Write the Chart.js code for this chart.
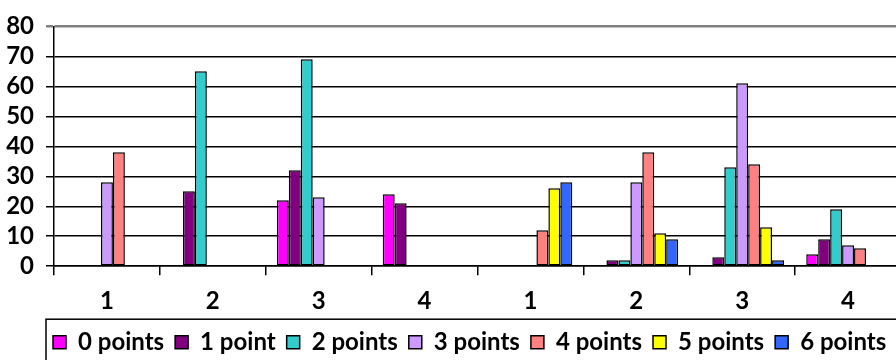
<!DOCTYPE html>
<html>
<head>
<meta charset="utf-8">
<script src="https://cdn.jsdelivr.net/npm/chart.js@4"></script>
<style>
  html, body { margin: 0; padding: 0; background: #fff; width: 896px; height: 360px; overflow: hidden; }
  #wrap { width: 910px; height: 380px; }
</style>
</head>
<body>
<div id="wrap"><canvas id="myChart"></canvas></div>
<script>
const categories = ['1', '2', '3', '4', '1', '2', '3', '4']
const seriesNames = ['0 points', '1 point', '2 points', '3 points', '4 points', '5 points', '6 points']
const seriesColors = ['#FF00FF', '#800080', '#33CCCC', '#CC99FF', '#FF8080', '#FFFF00', '#3366FF']

const points0 = [null, null, 22, 24, null, null, null, 4]
const points1 = [null, 25, 32, 21, null, 2, 3, 9]
const points2 = [null, 65, 69, null, null, 2, 33, 19]
const points3 = [28, null, 23, null, null, 28, 61, 7]
const points4 = [38, null, null, null, 12, 38, 34, 6]
const points5 = [null, null, null, null, 26, 11, 13, null]
const points6 = [null, null, null, null, 28, 9, 2, null]

const allSeries = [points0, points1, points2, points3, points4, points5, points6]

const font = { family: 'Lato', weight: 'bold', size: 24 }

// move legend under the axis and put a box round it, like the Excel one
const legendBox = {
  id: 'legendBox',
  afterLayout(chart) {
    const lg = chart.legend
    const ca = chart.chartArea
    const w = lg.right - lg.left
    const h = lg.bottom - lg.top
    lg.left = ca.left - 12
    lg.right = lg.left + w
    lg.top = ca.bottom + 53
    lg.bottom = lg.top + h
  },
  afterDraw(chart) {
    const ca = chart.chartArea
    const c = chart.ctx
    c.save()
    c.strokeStyle = '#000'
    c.lineWidth = 1.5
    c.strokeRect(ca.left - 8, ca.bottom + 53, 900, 60)
    c.restore()
  }
}

const ctx = document.getElementById('myChart')

new Chart(ctx, {
  type: 'bar',
  data: {
    labels: categories,
    datasets: allSeries.map((vals, i) => ({
      label: seriesNames[i],
      data: vals,
      backgroundColor: seriesColors[i],
      borderColor: '#000',
      borderWidth: 1.5,
      borderSkipped: false,
      barPercentage: 1,
      categoryPercentage: 0.79
    }))
  },
  options: {
    responsive: true,
    maintainAspectRatio: false,
    animation: false,
    layout: {
      padding: { left: 6, right: 9, top: 23, bottom: 7 }
    },
    scales: {
      x: {
        offset: true,
        grid: {
          display: true,
          drawOnChartArea: false,
          drawTicks: true,
          tickLength: 9,
          offset: true,
          color: '#000',
          lineWidth: 1.5
        },
        border: { color: '#000', width: 1.5 },
        ticks: { color: '#000', font: font, padding: 12, maxRotation: 0 }
      },
      y: {
        min: 0,
        max: 80,
        afterFit: s => { s.width = 48 },
        grid: {
          color: c => c.tick && c.tick.value === 80 ? '#808080' : '#000',
          lineWidth: c => c.tick && c.tick.value === 80 ? 2.5 : 1.5,
          tickLength: 8
        },
        border: { color: '#000', width: 1.5 },
        ticks: { stepSize: 10, autoSkip: false, color: '#000', font: font, padding: 12 }
      }
    },
    plugins: {
      legend: {
        position: 'bottom',
        align: 'start',
        labels: {
          color: '#000',
          font: font,
          boxWidth: 13,
          boxHeight: 13,
          padding: 11,
          useBorderRadius: false
        }
      },
      tooltip: { enabled: false }
    }
  },
  plugins: [legendBox]
});
</script>
</body>
</html>
